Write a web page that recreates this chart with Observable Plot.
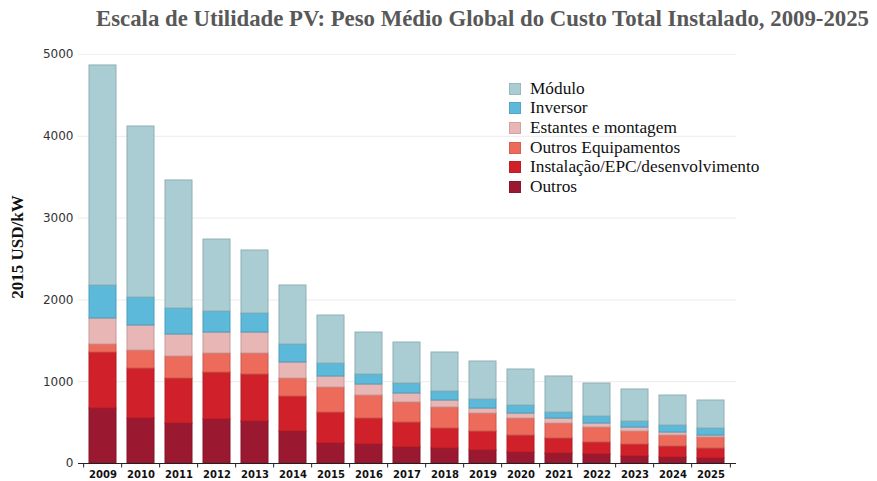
<!DOCTYPE html>
<html>
<head>
<meta charset="utf-8">
<script src="https://cdn.jsdelivr.net/npm/d3@7"></script>
<script src="https://cdn.jsdelivr.net/npm/@observablehq/plot@0.6"></script>
<style>
  html, body { margin: 0; padding: 0; background: #fff; }
  #wrap { position: relative; width: 877px; height: 481px; overflow: hidden; }
  #title { position: absolute; left: 0; top: 6px; width: 877px; padding-left: 88px; box-sizing: border-box; text-align: center;
    font-family: "Liberation Serif", "DejaVu Serif", serif; font-weight: bold; font-size: 22.8px; color: #585858; white-space: nowrap; }
  #chart { position: absolute; left: 0; top: 40px; }
  #ylabel { position: absolute; left: 18px; top: 247px; transform: translate(-50%, -50%) rotate(-90deg); white-space: nowrap;
    font-family: "Liberation Serif", serif; font-weight: bold; font-size: 17px; color: #111; }
  #legend { position: absolute; left: 509px; top: 79px; font-family: "Liberation Serif", serif; font-size: 17.3px; color: #111; }
  .row { display: flex; align-items: center; height: 19.6px; }
  .sw { width: 12px; height: 12px; margin-right: 9px; box-sizing: border-box; }
  g[aria-label^="x-axis"] text { font-family: "DejaVu Sans", sans-serif; font-size: 10px; font-weight: bold; fill: #111; }
  g[aria-label^="y-axis"] text { font-family: "DejaVu Sans", sans-serif; font-size: 12px; fill: #333; }
</style>
</head>
<body>
<div id="wrap">
  <div id="title">Escala de Utilidade PV: Peso Médio Global do Custo Total Instalado, 2009-2025</div>
  <div id="chart"></div>
  <div id="ylabel"></div>
  <div id="legend"></div>
</div>
<script>
const years = ["2009","2010","2011","2012","2013","2014","2015","2016","2017","2018","2019","2020","2021","2022","2023","2024","2025"];
// series, bottom to top
const outros      = [672,550,489,538,513,391,244,232,196,183,159,134,122,110,86,73,61];
const instalacao  = [685,611,550,574,575,428,379,318,305,245,232,208,184,147,146,135,122];
const outrosEquip = [98,220,269,233,257,220,306,281,245,257,220,208,183,183,159,134,135];
const estantes    = [318,306,269,256,256,196,135,135,110,85,61,61,61,49,49,37,24];
const inversor    = [403,342,318,257,233,220,158,122,122,110,110,98,73,86,73,86,86];
const modulo      = [2690,2091,1565,880,770,721,587,513,501,477,465,440,441,403,392,366,342];

const seriesNames  = ["Outros","Instalação/EPC/desenvolvimento","Outros Equipamentos","Estantes e montagem","Inversor","Módulo"];
const seriesValues = [outros, instalacao, outrosEquip, estantes, inversor, modulo];
const seriesColors = ["#9a1830","#d0212b","#ec6b5b","#e9b6b6","#5cb9d9","#a9cdd3"];

const yTicks = [0,1000,2000,3000,4000,5000];
const yTickLabels = ["0","1000","2000","3000","4000","5000"];
const yLabel = "2015 USD/kW";

const data = [];
seriesNames.forEach((s, si) => {
  years.forEach((y, i) => {
    data.push({year: y, series: s, value: seriesValues[si][i],
      fill: seriesColors[si], stroke: d3.color(seriesColors[si]).darker(0.45).formatHex()});
  });
});

const chart = Plot.plot({
  width: 877,
  height: 441,
  marginLeft: 78,
  marginRight: 141,
  marginTop: 14,
  marginBottom: 18,
  x: {domain: years, paddingInner: 0.28, paddingOuter: 0.14, tickSize: 0, tickPadding: 7, label: null},
  y: {domain: [0, 5000], ticks: yTicks, tickFormat: d => yTickLabels[yTicks.indexOf(d)], tickSize: 0, tickPadding: 5, label: null},
  marks: [
    Plot.ruleY(yTicks.slice(1), {stroke: "#efefef", strokeWidth: 1.2}),
    Plot.barY(data, {x: "year", y: "value", z: "series", fill: d => d.fill, stroke: d => d.stroke, strokeWidth: 1}),
    Plot.ruleY([0], {stroke: "#222", strokeWidth: 1.2}),
    Plot.ruleX(years, {x: d => d, y1: 0, y2: -55, dx: -19.35, stroke: "#222"}),
    Plot.ruleX(years.slice(-1), {x: d => d, y1: 0, y2: -55, dx: 19.35, stroke: "#222"})
  ]
});
document.getElementById("chart").appendChild(chart);
document.getElementById("ylabel").textContent = yLabel;

const legend = document.getElementById("legend");
const legendOrder = [5,4,3,2,1,0];
legendOrder.forEach(si => {
  const row = document.createElement("div");
  row.className = "row";
  const sw = document.createElement("div");
  sw.className = "sw";
  sw.style.background = seriesColors[si];
  sw.style.border = "1px solid " + d3.color(seriesColors[si]).darker(0.3).formatHex();
  const t = document.createElement("span");
  t.textContent = seriesNames[si];
  row.appendChild(sw); row.appendChild(t);
  legend.appendChild(row);
});
</script>
</body>
</html>
